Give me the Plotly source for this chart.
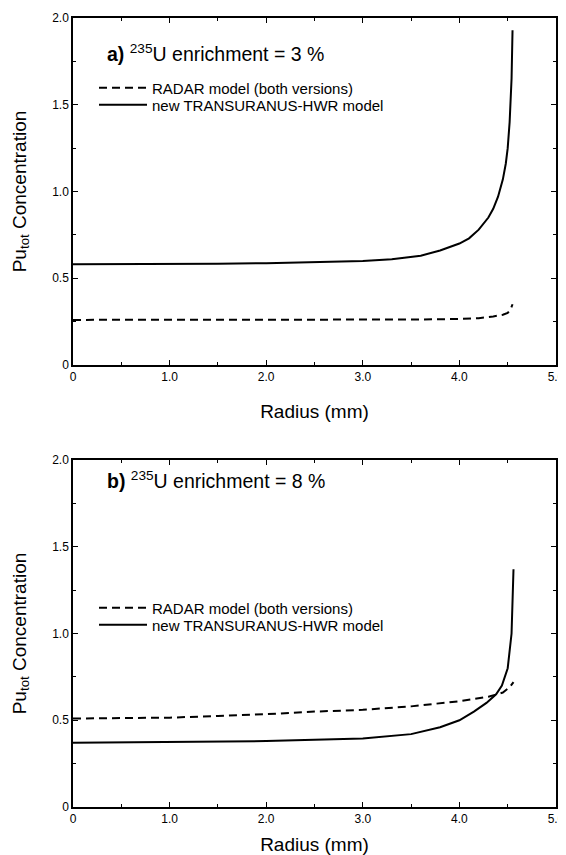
import plotly.graph_objects as go
from plotly.subplots import make_subplots

# ---- data ----
radius_a_solid = [0, 0.5, 1.0, 1.5, 2.0, 2.5, 3.0, 3.3, 3.6, 3.8, 4.0, 4.1, 4.2, 4.3, 4.35, 4.4, 4.45, 4.48, 4.5, 4.52, 4.54, 4.55]
conc_a_solid = [0.58, 0.58, 0.58, 0.583, 0.587, 0.592, 0.60, 0.61, 0.63, 0.66, 0.70, 0.73, 0.78, 0.85, 0.90, 0.97, 1.07, 1.16, 1.25, 1.40, 1.65, 1.93]

radius_a_dash = [0, 1.0, 2.0, 3.0, 3.5, 4.0, 4.2, 4.35, 4.45, 4.5, 4.53, 4.55]
conc_a_dash = [0.26, 0.26, 0.26, 0.26, 0.262, 0.265, 0.27, 0.28, 0.29, 0.30, 0.32, 0.35]

radius_b_solid = [0, 1.0, 2.0, 3.0, 3.5, 3.8, 4.0, 4.15, 4.28, 4.38, 4.44, 4.5, 4.54, 4.56]
conc_b_solid = [0.37, 0.375, 0.38, 0.395, 0.42, 0.46, 0.50, 0.55, 0.60, 0.65, 0.70, 0.80, 1.00, 1.37]

radius_b_dash = [0, 1.0, 1.5, 2.0, 2.5, 3.0, 3.5, 4.0, 4.3, 4.45, 4.52, 4.56]
conc_b_dash = [0.51, 0.515, 0.525, 0.535, 0.55, 0.56, 0.58, 0.61, 0.635, 0.66, 0.69, 0.72]

x_ticks = [0, 1, 2, 3, 4, 5]
x_labels = ["0", "1.0", "2.0", "3.0", "4.0", "5.0"]
y_ticks = [0, 0.5, 1.0, 1.5, 2.0]
y_labels = ["0", "0.5", "1.0", "1.5", "2.0"]

name_dash = "RADAR model (both versions)"
name_solid = "new TRANSURANUS-HWR model"
title_a = "<b>a)</b> <sup>235</sup>U enrichment = 3 %"
title_b = "<b>b)</b> <sup>235</sup>U enrichment = 8 %"

FONT = "Liberation Sans, Arial, sans-serif"
# page body has an 8px default margin, so the figure is sized to fit the window
OFF = 8
W, H = 566 - OFF, 855 - OFF
L, R = 73 - OFF, 566 - 556
PW = W - L - R

fig = make_subplots(rows=2, cols=1)

dash_style = dict(color="black", width=2, dash="8px,5px")
solid_style = dict(color="black", width=2)

fig.add_trace(go.Scatter(x=radius_a_dash, y=conc_a_dash, mode="lines", line=dash_style,
                         name=name_dash, legend="legend"), row=1, col=1)
fig.add_trace(go.Scatter(x=radius_a_solid, y=conc_a_solid, mode="lines", line=solid_style,
                         name=name_solid, legend="legend2"), row=1, col=1)
fig.add_trace(go.Scatter(x=radius_b_dash, y=conc_b_dash, mode="lines", line=dash_style,
                         name=name_dash, legend="legend3"), row=2, col=1)
fig.add_trace(go.Scatter(x=radius_b_solid, y=conc_b_solid, mode="lines", line=solid_style,
                         name=name_solid, legend="legend4"), row=2, col=1)

def py(screen_y):
    return (H - (screen_y - OFF)) / H

def px(screen_x):
    return (screen_x - OFF - L) / PW

top_dom = [py(365), py(18)]
bot_dom = [py(807), py(460)]

axis_common = dict(
    showline=True, linecolor="black", linewidth=1.5, mirror="ticks",
    ticks="inside", ticklen=5, tickwidth=1, tickcolor="black",
    showgrid=False, zeroline=False, automargin=False,
    tickfont=dict(family=FONT, size=12, color="black"),
    minor=dict(ticks="inside", ticklen=3, tickcolor="black", showgrid=False),
)

for i, dom in ((1, top_dom), (2, bot_dom)):
    xa = "xaxis" if i == 1 else "xaxis2"
    ya = "yaxis" if i == 1 else "yaxis2"
    fig.layout[xa].update(
        range=[0, 5], tickvals=x_ticks, ticktext=x_labels, domain=[0, 1],
        title=dict(text="Radius (mm)", font=dict(family=FONT, size=19, color="black"),
                   standoff=22 if i == 1 else 13),
        **axis_common)
    fig.layout[xa].minor.update(dtick=0.5, tick0=0)
    fig.layout[ya].update(
        range=[0, 2], tickvals=y_ticks, ticktext=y_labels, domain=dom,
        title=dict(text="Pu<sub>tot</sub> Concentration", font=dict(family=FONT, size=19, color="black"), standoff=21),
        **axis_common)
    fig.layout[ya].minor.update(dtick=0.25, tick0=0)

fig.add_annotation(text=title_a, xref="x domain", yref="y", x=px(105), y=1.80,
                   xanchor="left", yanchor="middle",
                   showarrow=False, font=dict(family=FONT, size=19.5, color="black"))
fig.add_annotation(text=title_b, xref="x2 domain", yref="y2", x=px(105), y=1.885,
                   xanchor="left", yanchor="middle",
                   showarrow=False, font=dict(family=FONT, size=19.5, color="black"))

legend_common = dict(font=dict(family=FONT, size=15, color="black"), bgcolor="rgba(0,0,0,0)",
                     xanchor="left", yanchor="middle", tracegroupgap=0, itemwidth=48)
lx = px(94)

fig.update_layout(
    width=W, height=H,
    margin=dict(l=L, r=R, t=0, b=0),
    paper_bgcolor="white", plot_bgcolor="white",
    showlegend=True,
    legend=dict(x=lx, y=py(88), **legend_common),
    legend2=dict(x=lx, y=py(105), **legend_common),
    legend3=dict(x=lx, y=py(608), **legend_common),
    legend4=dict(x=lx, y=py(625), **legend_common),
)

fig.write_html("out.html")
